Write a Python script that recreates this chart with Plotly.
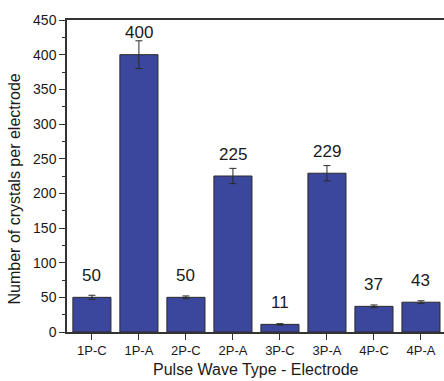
import plotly.graph_objects as go

# Crystal counts per electrode for each pulse wave type
categories = ["1P-C", "1P-A", "2P-C", "2P-A", "3P-C", "3P-A", "4P-C", "4P-A"]
counts = [50, 400, 50, 225, 11, 229, 37, 43]
errors = [3, 20, 2, 11, 1, 11, 2, 2]
y_ticks = [0, 50, 100, 150, 200, 250, 300, 350, 400, 450]

FONT = "Liberation Sans, Arial, sans-serif"
BAR_COLOR = "#3A479C"
INK = "#1a1a1a"
AXIS = "#333333"

fig = go.Figure()
fig.add_trace(go.Bar(
    x=categories,
    y=counts,
    marker=dict(color=BAR_COLOR, line=dict(color="#2a2a2a", width=1)),
    error_y=dict(type="data", array=errors, visible=True,
                 color="#2a2a2a", thickness=1, width=3.5),
    showlegend=False,
    hoverinfo="x+y",
))

# Value labels above each bar
for cat, val in zip(categories, counts):
    fig.add_annotation(x=cat, y=val, xref="x", yref="y", text=str(val),
                       showarrow=False, yanchor="middle", yshift=22,
                       font=dict(family=FONT, size=17, color=INK))

# Axis titles
fig.add_annotation(text="Number of crystals per electrode", xref="paper", yref="paper",
                   x=-0.138, y=0.46, textangle=-90, showarrow=False,
                   xanchor="center", yanchor="middle",
                   font=dict(family=FONT, size=16, color=INK))
fig.add_annotation(text="Pulse Wave Type - Electrode", xref="paper", yref="paper",
                   x=0.5, y=-0.153, showarrow=False,
                   xanchor="center", yanchor="bottom",
                   font=dict(family=FONT, size=16, color=INK))

fig.update_layout(
    width=444, height=381,
    margin=dict(l=67, r=0, t=20, b=49),
    paper_bgcolor="white", plot_bgcolor="white",
    bargap=0.19,
    font=dict(family=FONT, color=INK),
    xaxis=dict(
        type="category",
        range=[-0.53, 7.49],
        showgrid=False, zeroline=False,
        showline=True, linecolor=AXIS, linewidth=1.5, mirror=True,
        ticks="outside", ticklen=6, tickwidth=1, tickcolor=AXIS,
        tickfont=dict(family=FONT, size=13, color=INK),
    ),
    xaxis2=dict(
        overlaying="x", side="bottom", anchor="y",
        range=[-0.53, 7.49],
        tickvals=[i + 0.5 for i in range(len(categories) - 1)],
        showticklabels=False, showgrid=False, zeroline=False, showline=False,
        ticks="outside", ticklen=3, tickwidth=1, tickcolor=AXIS,
    ),
    yaxis=dict(
        range=[0, 450],
        tickvals=y_ticks,
        showgrid=False, zeroline=False,
        showline=True, linecolor=AXIS, linewidth=1.5,
        ticks="outside", ticklen=6, tickwidth=1, tickcolor=AXIS,
        minor=dict(dtick=25, ticks="outside", ticklen=3, tickwidth=1, tickcolor=AXIS),
        tickfont=dict(family=FONT, size=14, color=INK),
    ),
)

fig.write_html("out.html")
